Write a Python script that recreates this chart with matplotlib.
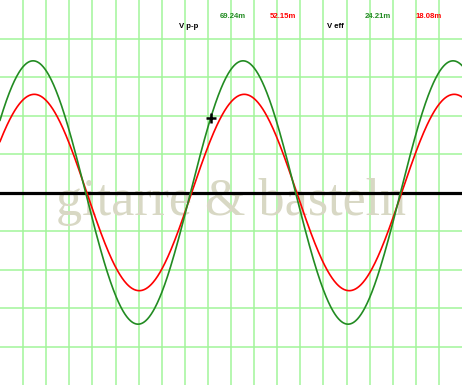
import matplotlib
matplotlib.use('Agg')
import matplotlib.pyplot as plt
import numpy as np

# scope readings, in screen divisions (20 x 10 grid)
n_xdiv = 20
n_ydiv = 10
period_div = 9.09          # one cycle of the signal
green_amp = 3.42           # channel 1 amplitude
red_amp = 2.55             # channel 2 amplitude
green_zero = 8.25          # rising zero crossing, channel 1
red_zero = 8.30            # rising zero crossing, channel 2
cursor_x = 9.12            # cursor position on channel 1

labels_vpp = ['69.24m', '52.15m']
labels_veff = ['24.21m', '18.08m']
trace_colors = ['#228b22', '#ff0000']
watermark = 'gitarre & basteln'

W, H = 462, 385
fig = plt.figure(figsize=(W / 100, H / 100), dpi=100)
ax = fig.add_axes([0, 0, 1, 1])
ax.set_xlim(0, n_xdiv)
ax.set_ylim(-n_ydiv / 2, n_ydiv / 2)
ax.axis('off')

# grid
for k in range(1, n_xdiv):
	ax.axvline(k, color='#a2f59a', lw=1.1, zorder=1)
for k in range(-n_ydiv // 2 + 1, n_ydiv // 2):
	if k != 0:
		ax.axhline(k, color='#a2f59a', lw=1.1, zorder=1)

ax.text(n_xdiv / 2, -0.58, watermark, family='Liberation Serif', fontsize=37.5,
	color='#d8d8c4', ha='center', va='baseline', zorder=1.5)

ax.axhline(0, color='black', lw=2.3, zorder=2)

t = np.linspace(0, n_xdiv, 1000)
green = green_amp * np.sin(2 * np.pi * (t - green_zero) / period_div)
red = red_amp * np.sin(2 * np.pi * (t - red_zero) / period_div)
ax.plot(t, red, color=trace_colors[1], lw=1.2, zorder=3)
ax.plot(t, green, color=trace_colors[0], lw=1.2, zorder=3)

cy = green_amp * np.sin(2 * np.pi * (cursor_x - green_zero) / period_div)
ax.plot([cursor_x], [cy], marker='+', color='black', ms=7, mew=1.8, zorder=4)

def px(x, y):
	return x / W, 1 - y / H

fs = 5.6
kw = dict(family='Liberation Sans', fontweight='bold', fontsize=fs, ha='center', va='center')
fig.text(*px(189, 26.5), 'V p-p', color='black', **kw)
fig.text(*px(232.5, 17), labels_vpp[0], color=trace_colors[0], **kw)
fig.text(*px(282.5, 17), labels_vpp[1], color=trace_colors[1], **kw)
fig.text(*px(335, 26.5), 'V eff', color='black', **kw)
fig.text(*px(377.5, 17), labels_veff[0], color=trace_colors[0], **kw)
fig.text(*px(428.5, 17), labels_veff[1], color=trace_colors[1], **kw)

fig.savefig('out.png', dpi=100)
